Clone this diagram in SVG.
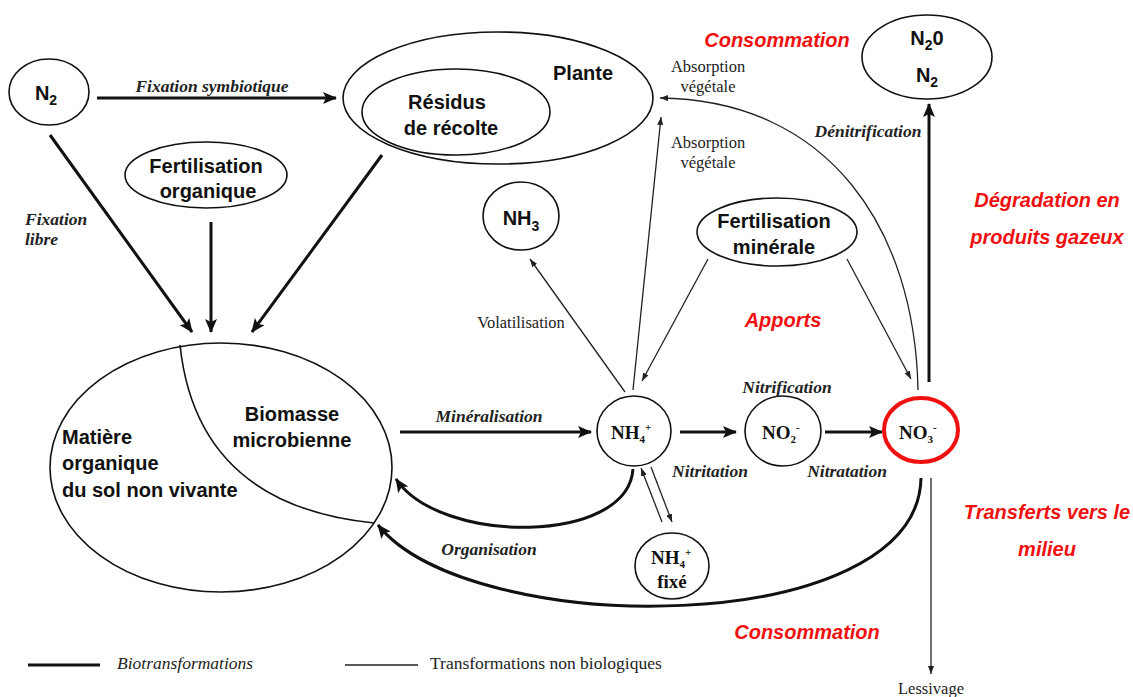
<svg xmlns="http://www.w3.org/2000/svg" width="1133" height="697" viewBox="0 0 1133 697">
<style>
.node{fill:none;stroke:#111;stroke-width:1.6}
.red{fill:none;stroke:#f01010;stroke-width:4}
.lbl{font-family:"Liberation Sans",Arial,sans-serif;font-weight:bold;font-size:20px;fill:#111}
.chem{font-family:"Liberation Serif","Times New Roman",serif;font-weight:bold;font-size:19px;fill:#111}
.it{font-family:"Liberation Serif","Times New Roman",serif;font-weight:bold;font-style:italic;font-size:17.5px;fill:#222}
.rm{font-family:"Liberation Serif","Times New Roman",serif;font-size:16.5px;fill:#222}
.leg{font-family:"Liberation Serif","Times New Roman",serif;font-size:17.5px;fill:#222}
.note{font-family:"Liberation Sans",Arial,sans-serif;font-weight:bold;font-style:italic;font-size:20px;fill:#f01010}
.thick{fill:none;stroke:#111;stroke-width:3;marker-end:url(#hb)}
.thin{fill:none;stroke:#222;stroke-width:1.3;marker-end:url(#hs)}
</style>
<defs>
<marker id="hb" markerUnits="userSpaceOnUse" markerWidth="14" markerHeight="12" refX="13" refY="6" orient="auto">
<path d="M0,0 L14,6 L0,12 L3,6 z" fill="#111"/>
</marker>
<marker id="hs" markerUnits="userSpaceOnUse" markerWidth="8" markerHeight="6" refX="8" refY="3" orient="auto">
<path d="M0,0 L8,3 L0,6 z" fill="#222"/>
</marker>
</defs>
<rect width="1133" height="697" fill="#fff"/>

<g id="connectors">
<line class="thick" x1="97" y1="98" x2="336" y2="98"/>
<line class="thick" x1="50" y1="135" x2="192" y2="332"/>
<line class="thick" x1="211" y1="222" x2="211" y2="332"/>
<line class="thick" x1="382" y1="155" x2="252" y2="332"/>
<line class="thick" x1="400" y1="432" x2="591" y2="432"/>
<line class="thick" x1="680" y1="432" x2="736" y2="432"/>
<line class="thick" x1="825" y1="432" x2="882" y2="432"/>
<line class="thick" x1="929" y1="382" x2="929" y2="104"/>
<path class="thick" d="M633,469 C628,545 440,545 396,479"/>
<path class="thick" d="M921,478 C918,640 470,640 378,525"/>
<line class="thin" x1="633" y1="390" x2="661" y2="117"/>
<path class="thin" d="M918,390 C915,230 830,100 660,98"/>
<line class="thin" x1="625" y1="392" x2="530" y2="259"/>
<line class="thin" x1="708" y1="259" x2="642" y2="381"/>
<line class="thin" x1="847" y1="259" x2="911" y2="379"/>
<line class="thin" x1="662" y1="522" x2="641" y2="468"/>
<line class="thin" x1="651" y1="467" x2="672" y2="522"/>
<line class="thin" x1="931" y1="478" x2="931" y2="674"/>
</g>

<g id="n2">
<ellipse class="node" cx="49" cy="92" rx="40" ry="33"/>
<text class="lbl" x="46" y="100" text-anchor="middle">N<tspan font-size="14" dy="5">2</tspan></text>
</g>
<g id="plante">
<ellipse class="node" cx="498" cy="98" rx="155" ry="66"/>
<text class="lbl" x="583" y="80" text-anchor="middle">Plante</text>
</g>
<g id="residus">
<ellipse class="node" cx="456" cy="112" rx="94" ry="43"/>
<text class="lbl" x="447" y="109" text-anchor="middle">Résidus</text>
<text class="lbl" x="451" y="135" text-anchor="middle">de récolte</text>
</g>
<g id="fert-org">
<ellipse class="node" cx="206" cy="175" rx="81" ry="33"/>
<text class="lbl" x="206" y="173" text-anchor="middle">Fertilisation</text>
<text class="lbl" x="208" y="198" text-anchor="middle">organique</text>
</g>
<g id="mo">
<ellipse class="node" cx="221" cy="467.5" rx="171" ry="124.5"/>
<path class="node" d="M180,345 Q197,505 374,523"/>
<text class="lbl" x="292" y="421" text-anchor="middle">Biomasse</text>
<text class="lbl" x="292" y="447" text-anchor="middle">microbienne</text>
<text class="lbl" x="62" y="444">Matière</text>
<text class="lbl" x="62" y="470">organique</text>
<text class="lbl" x="62" y="497">du sol non vivante</text>
</g>
<g id="nh3">
<ellipse class="node" cx="521" cy="216" rx="38" ry="34"/>
<text class="lbl" x="521" y="225" text-anchor="middle">NH<tspan font-size="14" dy="6">3</tspan></text>
</g>
<g id="fert-min">
<ellipse class="node" cx="777" cy="232" rx="80" ry="34"/>
<text class="lbl" x="774" y="228" text-anchor="middle">Fertilisation</text>
<text class="lbl" x="774" y="254" text-anchor="middle">minérale</text>
</g>
<g id="nh4">
<ellipse class="node" cx="634" cy="431" rx="37" ry="35"/>
<text class="chem" x="611" y="439">NH<tspan font-size="11" dy="4">4</tspan><tspan font-size="11" dy="-12">+</tspan></text>
</g>
<g id="no2">
<ellipse class="node" cx="783" cy="431" rx="38" ry="35"/>
<text class="chem" x="762" y="439">NO<tspan font-size="11" dy="4">2</tspan><tspan font-size="11" dy="-12">-</tspan></text>
</g>
<g id="no3">
<ellipse class="red" cx="921" cy="430" rx="37" ry="32"/>
<text class="chem" x="899" y="439">NO<tspan font-size="11" dy="4">3</tspan><tspan font-size="11" dy="-12">-</tspan></text>
</g>
<g id="nh4fixe">
<ellipse class="node" cx="672" cy="566" rx="37" ry="33"/>
<text class="chem" x="651" y="564">NH<tspan font-size="11" dy="4">4</tspan><tspan font-size="11" dy="-12">+</tspan></text>
<text class="chem" x="672" y="588" text-anchor="middle">fixé</text>
</g>
<g id="n2o">
<ellipse class="node" cx="927" cy="57" rx="65" ry="42"/>
<text class="lbl" x="927" y="45" text-anchor="middle">N<tspan font-size="14" dy="5">2</tspan><tspan dy="-5">0</tspan></text>
<text class="lbl" x="927" y="82" text-anchor="middle">N<tspan font-size="14" dy="5">2</tspan></text>
</g>

<g id="labels">
<text class="it" x="212" y="92" text-anchor="middle">Fixation symbiotique</text>
<text class="it" x="25" y="225">Fixation</text>
<text class="it" x="25" y="245">libre</text>
<text class="it" x="489" y="422" text-anchor="middle">Minéralisation</text>
<text class="it" x="489" y="555" text-anchor="middle">Organisation</text>
<text class="it" x="787" y="393" text-anchor="middle">Nitrification</text>
<text class="it" x="710" y="477" text-anchor="middle">Nitritation</text>
<text class="it" x="847" y="477" text-anchor="middle">Nitratation</text>
<text class="it" x="868" y="137" text-anchor="middle">Dénitrification</text>
<text class="rm" x="708" y="72" text-anchor="middle">Absorption</text>
<text class="rm" x="708" y="92" text-anchor="middle">végétale</text>
<text class="rm" x="708" y="148" text-anchor="middle">Absorption</text>
<text class="rm" x="708" y="168" text-anchor="middle">végétale</text>
<text class="rm" x="521" y="328" text-anchor="middle">Volatilisation</text>
<text class="rm" x="931" y="694" text-anchor="middle">Lessivage</text>
</g>

<g id="notes">
<text class="note" x="777" y="47" text-anchor="middle">Consommation</text>
<text class="note" x="783" y="327" text-anchor="middle">Apports</text>
<text class="note" x="1047" y="207" text-anchor="middle">Dégradation en</text>
<text class="note" x="1047" y="244" text-anchor="middle">produits gazeux</text>
<text class="note" x="1047" y="519" text-anchor="middle">Transferts vers le</text>
<text class="note" x="1047" y="556" text-anchor="middle">milieu</text>
<text class="note" x="807" y="639" text-anchor="middle">Consommation</text>
</g>

<g id="legend">
<line x1="28" y1="665" x2="100" y2="665" stroke="#111" stroke-width="3"/>
<text class="leg" x="117" y="669" font-style="italic">Biotransformations</text>
<line x1="345" y1="665" x2="418" y2="665" stroke="#222" stroke-width="1.3"/>
<text class="leg" x="430" y="669">Transformations non biologiques</text>
</g>
</svg>
